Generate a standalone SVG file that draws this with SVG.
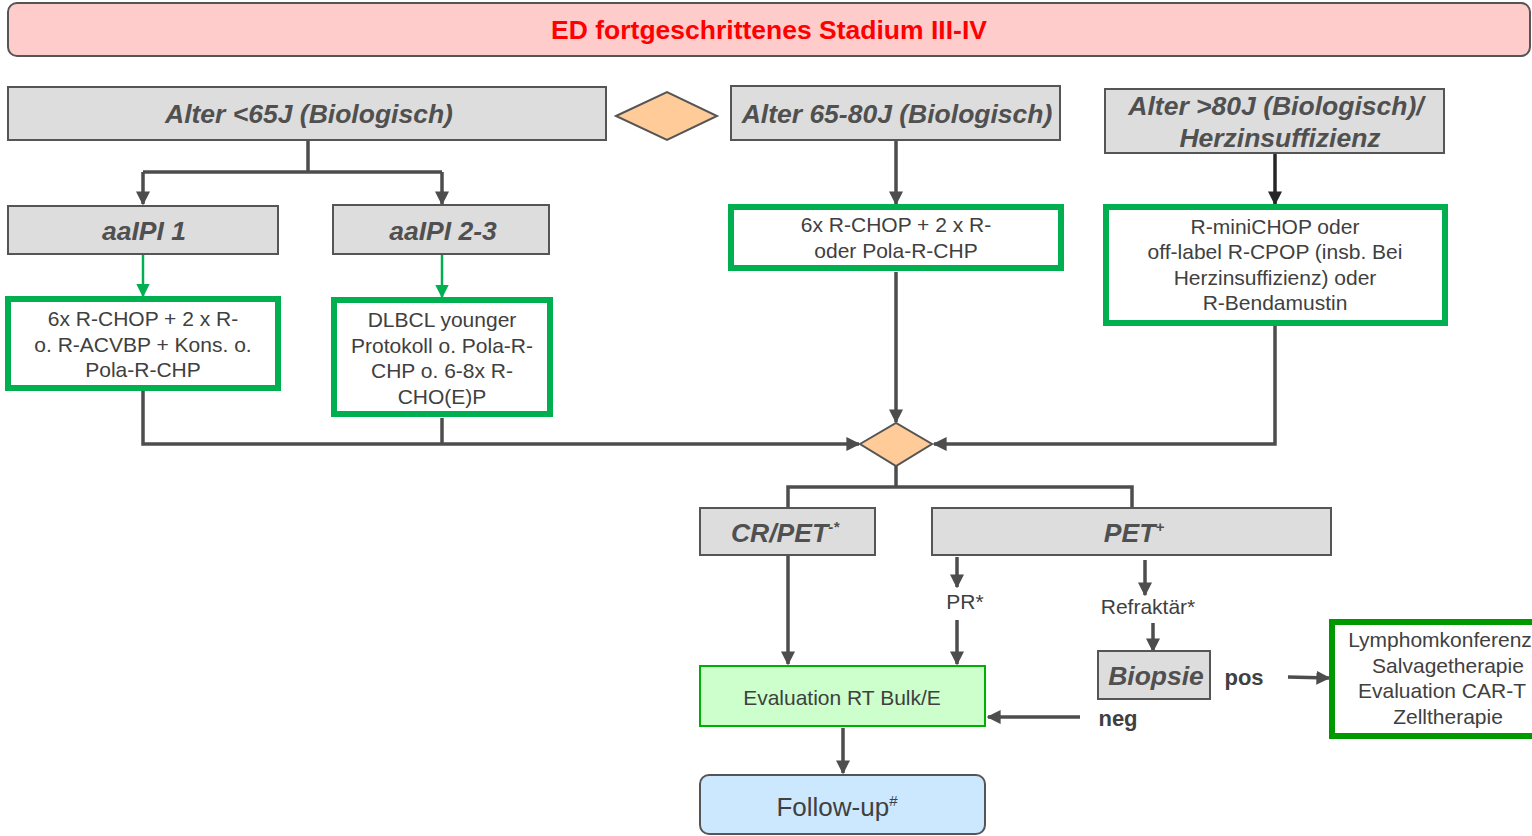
<svg xmlns="http://www.w3.org/2000/svg" width="1532" height="836" viewBox="0 0 1532 836">
<defs>
<marker id="ah" viewBox="0 0 10 10" refX="9" refY="5" markerWidth="4" markerHeight="4" orient="auto" markerUnits="strokeWidth"><path d="M0,0 L10,5 L0,10 z" fill="#4D4D4D"/></marker>
<marker id="ahg" viewBox="0 0 10 10" refX="9" refY="5" markerWidth="5.5" markerHeight="5.5" orient="auto" markerUnits="strokeWidth"><path d="M0,0 L10,5 L0,10 z" fill="#00B050"/></marker>
<marker id="ahd" viewBox="0 0 10 10" refX="9" refY="5" markerWidth="4" markerHeight="4" orient="auto" markerUnits="strokeWidth"><path d="M0,0 L10,5 L0,10 z" fill="#262626"/></marker>
</defs>
<style>
text{font-family:"Liberation Sans",Arial,sans-serif;text-anchor:middle}
.hdr{fill:#DDDDDD;stroke:#555;stroke-width:2}
.ht{font-size:26.5px;font-weight:bold;font-style:italic;fill:#505050}
.gb{fill:#fff;stroke:#00B050;stroke-width:6}
.bt{font-size:21px;fill:#404040}
.dia{fill:#FFCC99;stroke:#555;stroke-width:2}
.c{fill:none;stroke:#4D4D4D;stroke-width:3.5}
.cg{fill:none;stroke:#00B050;stroke-width:2.5}
.lb{font-size:22px;fill:#404040;font-weight:bold}
</style>
<g id="title">
<rect x="8" y="3" width="1522" height="53" rx="9" fill="#FFCCCC" stroke="#555" stroke-width="2"/>
<text x="769" y="39" font-size="26.5" font-weight="bold" fill="#FF0000">ED fortgeschrittenes Stadium III-IV</text>
</g>
<g id="connectors">
<path class="c" d="M308,140 V172 M143,172 H442" />
<path class="c" d="M143,172 V204" marker-end="url(#ah)"/>
<path class="c" d="M442,172 V204" marker-end="url(#ah)"/>
<path class="cg" d="M143,255 V296" marker-end="url(#ahg)"/>
<path class="cg" d="M442,255 V297" marker-end="url(#ahg)"/>
<path class="c" d="M896,141 V204" marker-end="url(#ah)"/>
<path fill="none" stroke="#262626" stroke-width="3.5" d="M1275,154 V204" marker-end="url(#ahd)"/>
<path class="c" d="M896,272 V422" marker-end="url(#ah)"/>
<path class="c" d="M143,391 V444 H859" marker-end="url(#ah)"/>
<path class="c" d="M442,418 V444"/>
<path class="c" d="M1275,326 V444 H934" marker-end="url(#ah)"/>
<path class="c" d="M896,466 V487 M788,508 V487 H1132 V508"/>
<path class="c" d="M788,556 V664" marker-end="url(#ah)"/>
<path class="c" d="M957,557 V587" marker-end="url(#ah)"/>
<path class="c" d="M957,620 V664" marker-end="url(#ah)"/>
<path class="c" d="M1145,560 V595" marker-end="url(#ah)"/>
<path class="c" d="M1153,623 V651" marker-end="url(#ah)"/>
<path class="c" d="M1288,677 L1329,678" marker-end="url(#ah)"/>
<path class="c" d="M1080,717 H988" marker-end="url(#ah)"/>
<path class="c" d="M843,728 V773" marker-end="url(#ah)"/>
</g>
<g id="n_dia1"><polygon class="dia" points="616,116 667,92 717,116 667,140"/></g>
<g id="n_lt65">
<rect class="hdr" x="8" y="87" width="598" height="53"/>
<text class="ht" x="309" y="123">Alter &lt;65J (Biologisch)</text>
</g>
<g id="n_6580">
<rect class="hdr" x="731" y="86" width="329" height="54"/>
<text class="ht" x="897" y="123">Alter 65-80J (Biologisch)</text>
</g>
<g id="n_gt80">
<rect class="hdr" x="1105" y="89" width="339" height="64"/>
<text class="ht" x="1276" y="115">Alter &gt;80J (Biologisch)/</text>
<text class="ht" x="1280" y="147">Herzinsuffizienz</text>
</g>
<g id="n_aaipi1">
<rect class="hdr" x="8" y="206" width="270" height="48"/>
<text class="ht" x="144" y="240">aaIPI 1</text>
</g>
<g id="n_aaipi23">
<rect class="hdr" x="333" y="205" width="216" height="49"/>
<text class="ht" x="443" y="240">aaIPI 2-3</text>
</g>
<g id="n_t1">
<rect class="gb" x="8" y="299" width="270" height="89"/>
<text class="bt" x="143" y="326">6x R-CHOP + 2 x R-</text>
<text class="bt" x="143" y="352">o. R-ACVBP + Kons. o.</text>
<text class="bt" x="143" y="377">Pola-R-CHP</text>
</g>
<g id="n_t2">
<rect class="gb" x="334" y="300" width="216" height="114"/>
<text class="bt" x="442" y="327">DLBCL younger</text>
<text class="bt" x="442" y="353">Protokoll o. Pola-R-</text>
<text class="bt" x="442" y="378">CHP o. 6-8x R-</text>
<text class="bt" x="442" y="404">CHO(E)P</text>
</g>
<g id="n_t3">
<rect class="gb" x="731" y="207" width="330" height="61"/>
<text class="bt" x="896" y="232">6x R-CHOP + 2 x R-</text>
<text class="bt" x="896" y="258">oder Pola-R-CHP</text>
</g>
<g id="n_t4">
<rect class="gb" x="1106" y="207" width="339" height="116"/>
<text class="bt" x="1275" y="234">R-miniCHOP oder</text>
<text class="bt" x="1275" y="259">off-label R-CPOP (insb. Bei</text>
<text class="bt" x="1275" y="285">Herzinsuffizienz) oder</text>
<text class="bt" x="1275" y="310">R-Bendamustin</text>
</g>
<g id="n_dia2"><polygon class="dia" points="860,444 896,423 932,444 896,466"/></g>
<g id="n_cr">
<rect class="hdr" x="700" y="508" width="175" height="47"/>
<text class="ht" x="785" y="542">CR/PET<tspan font-size="15" dy="-10">-*</tspan></text>
</g>
<g id="n_petpos">
<rect class="hdr" x="932" y="508" width="399" height="47"/>
<text class="ht" x="1134" y="542">PET<tspan font-size="15" dy="-10">+</tspan></text>
</g>
<g id="n_pr"><text class="bt" x="965" y="609">PR*</text></g>
<g id="n_refr"><text class="bt" x="1148" y="614">Refraktär*</text></g>
<g id="n_biopsie">
<rect class="hdr" x="1098" y="651" width="112" height="48"/>
<text class="ht" x="1156" y="685">Biopsie</text>
</g>
<g id="n_pos"><text class="lb" x="1244" y="685">pos</text></g>
<g id="n_neg"><text class="lb" x="1118" y="726">neg</text></g>
<g id="n_salv">
<rect x="1332" y="622" width="215" height="114" fill="#fff" stroke="#009900" stroke-width="6"/>
<text class="bt" x="1440" y="647" font-size="18.5">Lymphomkonferenz</text>
<text class="bt" x="1448" y="673">Salvagetherapie</text>
<text class="bt" x="1442" y="698" font-size="19.5">Evaluation CAR-T</text>
<text class="bt" x="1448" y="724">Zelltherapie</text>
</g>
<g id="n_eval">
<rect x="700" y="666" width="285" height="60" fill="#CCFFCC" stroke="#00B000" stroke-width="2"/>
<text class="bt" x="842" y="705">Evaluation RT Bulk/E</text>
</g>
<g id="n_follow">
<rect x="700" y="775" width="285" height="59" rx="9" fill="#CCE8FF" stroke="#555" stroke-width="2"/>
<text x="837" y="816" font-size="26" fill="#404040">Follow-up<tspan font-size="15" dy="-10">#</tspan></text>
</g>
</svg>
